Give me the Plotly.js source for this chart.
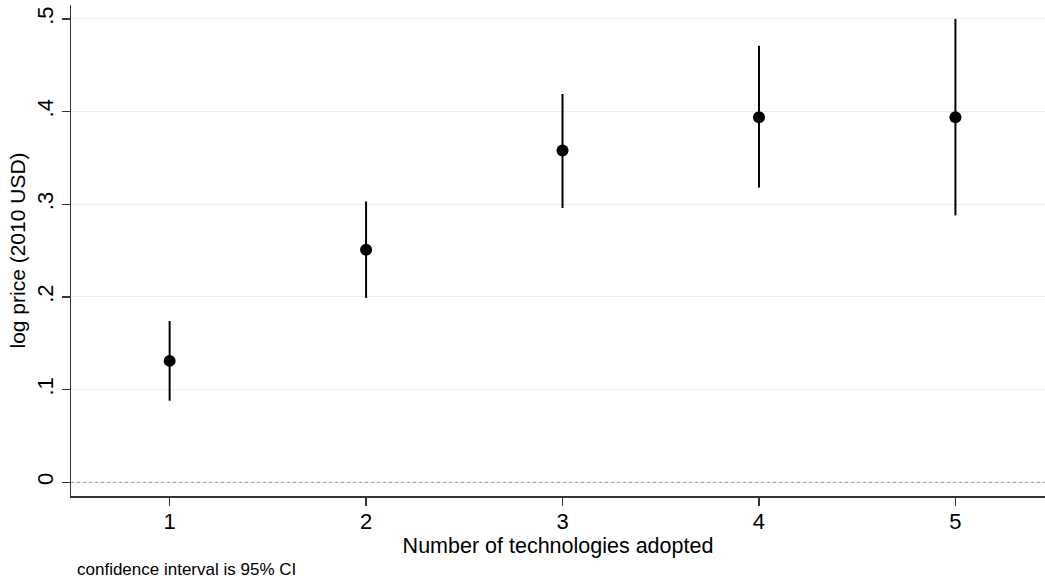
<!DOCTYPE html>
<html>
<head>
<meta charset="utf-8">
<script src="https://cdn.plot.ly/plotly-3.0.1.min.js"></script>
<style>html,body{margin:0;padding:0;background:#fff;}#chart{width:1045px;height:582px;}</style>
</head>
<body>
<div id="chart"></div>
<script>
const technologies = [1, 2, 3, 4, 5];
const estimate = [0.131, 0.251, 0.358, 0.394, 0.394];
const ciLower = [0.088, 0.199, 0.296, 0.318, 0.288];
const ciUpper = [0.174, 0.303, 0.419, 0.471, 0.500];
const yTickVals = [0, 0.1, 0.2, 0.3, 0.4, 0.5];
const yTickText = ["0", ".1", ".2", ".3", ".4", ".5"];
const xTickVals = [1, 2, 3, 4, 5];

const errPlus = estimate.map((v, i) => ciUpper[i] - v);
const errMinus = estimate.map((v, i) => v - ciLower[i]);

const trace = {
  x: technologies,
  y: estimate,
  type: 'scatter',
  mode: 'markers',
  marker: {color: '#000', size: 12},
  error_y: {type: 'data', symmetric: false, array: errPlus, arrayminus: errMinus,
            color: '#000', thickness: 2, width: 0},
  hoverinfo: 'x+y'
};

const font = {family: 'Liberation Sans, Arial, sans-serif', color: '#000'};

const layout = {
  width: 1045, height: 582,
  margin: {l: 71, r: 0, t: 5, b: 86, pad: 0},
  paper_bgcolor: '#fff', plot_bgcolor: '#fff',
  showlegend: false,
  font: font,
  xaxis: {
    range: [0.498, 5.456],
    tickvals: xTickVals,
    ticks: 'outside', ticklen: 8, tickwidth: 1.5, tickcolor: '#333',
    ticklabelstandoff: -3,
    showline: true, linecolor: '#333', linewidth: 1.5,
    showgrid: false, zeroline: false,
    tickfont: {family: font.family, size: 22, color: '#000'},
    title: {text: 'Number of technologies adopted', standoff: 0,
            font: {family: font.family, size: 21.5, color: '#000'}}
  },
  yaxis: {
    range: [-0.0148, 0.515],
    tickvals: yTickVals, ticktext: yTickText,
    tickangle: -90,
    ticks: 'outside', ticklen: 8, tickwidth: 1.5, tickcolor: '#333',
    showline: true, linecolor: '#333', linewidth: 1.5,
    showgrid: true, gridcolor: '#e8eff1', gridwidth: 1,
    zeroline: false,
    tickfont: {family: font.family, size: 22, color: '#000'},
    title: {text: 'log price (2010 USD)', standoff: 1,
            font: {family: font.family, size: 21, color: '#000'}}
  },
  shapes: [{
    type: 'line', xref: 'paper', x0: 0, x1: 1, yref: 'y', y0: 0, y1: 0,
    line: {color: '#999', width: 1, dash: 'dot'}, layer: 'above'
  }],
  annotations: [{
    text: 'confidence interval is 95% CI',
    xref: 'paper', yref: 'paper', x: 0.004, y: -0.1487,
    xanchor: 'left', yanchor: 'middle', showarrow: false,
    font: {family: font.family, size: 17, color: '#000'}
  }]
};

Plotly.newPlot('chart', [trace], layout, {displayModeBar: false, staticPlot: true});
</script>
</body>
</html>
